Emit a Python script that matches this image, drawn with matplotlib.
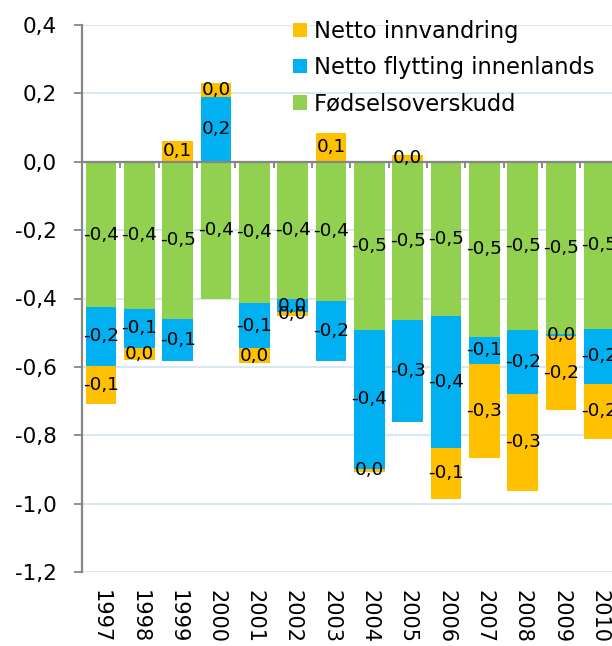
import matplotlib
matplotlib.use("Agg")
import matplotlib.pyplot as plt
import numpy as np

# years on the x axis
years = ['1997', '1998', '1999', '2000', '2001', '2002', '2003',
         '2004', '2005', '2006', '2007', '2008', '2009', '2010']

# components
fodselsoverskudd = [-0.426, -0.430, -0.460, -0.400, -0.413, -0.401, -0.408,
                    -0.491, -0.464, -0.452, -0.512, -0.491, -0.505, -0.488]
flytting_innenlands = [-0.170, -0.114, -0.122, 0.189, -0.132, -0.039, -0.174,
                       -0.407, -0.296, -0.385, -0.079, -0.187, -0.005, -0.161]
netto_innvandring = [-0.113, -0.035, 0.060, 0.042, -0.044, -0.012, 0.085,
                     -0.010, 0.021, -0.149, -0.276, -0.284, -0.215, -0.161]

series_names = ['Fødselsoverskudd', 'Netto flytting innenlands', 'Netto innvandring']
series_colors = ['#92D050', '#00B0F0', '#FFC000']
yticks = [0.4, 0.2, 0.0, -0.2, -0.4, -0.6, -0.8, -1.0, -1.2]

plt.rcParams['font.family'] = ['DejaVu Sans']

fig = plt.figure(figsize=(6.12, 6.46), dpi=100)
# plot area runs past the right edge of the picture (last bar is cut)
ax = fig.add_axes([82 / 612, 74 / 646, 530 / 612, 547 / 646])

x = np.arange(len(years))
pos_base = np.zeros(len(years))
neg_base = np.zeros(len(years))


def fmt(v):
    s = f"{v:.1f}".replace('.', ',')
    if s == '-0,0':
        s = '0,0'
    return s


containers = []
for name, vals, col in zip(series_names,
                           [fodselsoverskudd, flytting_innenlands, netto_innvandring],
                           series_colors):
    vals = np.array(vals)
    bottom = np.where(vals >= 0, pos_base, neg_base)
    bc = ax.bar(x, vals, 0.8, bottom=bottom, color=col, label=name, zorder=2)
    containers.append(bc)
    for xi, b, v in zip(x, bottom, vals):
        ax.text(xi, b + v / 2, fmt(v), ha='center', va='center',
                fontsize=13.3, color='black', zorder=4)
    pos_base = np.where(vals >= 0, pos_base + vals, pos_base)
    neg_base = np.where(vals < 0, neg_base + vals, neg_base)

ax.set_xlim(-0.5, -0.5 + 530 / 38.33)
ax.set_ylim(-1.2, 0.4)

# zero line with category tick marks hanging from it
ax.axhline(0, color='#868686', lw=1.6, zorder=3)
ax.vlines(np.arange(len(years)) + 0.5, -0.018, 0, color='#868686', lw=1.4, zorder=3)

ax.set_yticks(yticks)
ax.set_yticklabels([fmt(t) for t in yticks])
ax.yaxis.grid(True, color='#DAE8F1', lw=1.5, zorder=0)
ax.set_axisbelow(True)
ax.tick_params(axis='y', direction='out', length=6, width=1.3, color='#868686',
               pad=12, labelsize=15.5)

ax.set_xticks(x)
ax.set_xticklabels(years, rotation=-90)
ax.tick_params(axis='x', length=0, pad=13, labelsize=15)

for s in ['top', 'right', 'bottom']:
    ax.spines[s].set_visible(False)
ax.spines['left'].set_color('#868686')
ax.spines['left'].set_linewidth(1.6)

# legend: orange on top, green last
handles = [containers[2], containers[1], containers[0]]
labels = [series_names[2], series_names[1], series_names[0]]
ax.legend(handles, labels, loc='upper left', bbox_to_anchor=(293 / 612, 1 - 20 / 646),
          bbox_transform=fig.transFigure, frameon=False, fontsize=16.3,
          handlelength=0.62, handleheight=0.62, handletextpad=0.3,
          labelspacing=0.58, borderpad=0, borderaxespad=0)

fig.savefig('out.png', dpi=100)
